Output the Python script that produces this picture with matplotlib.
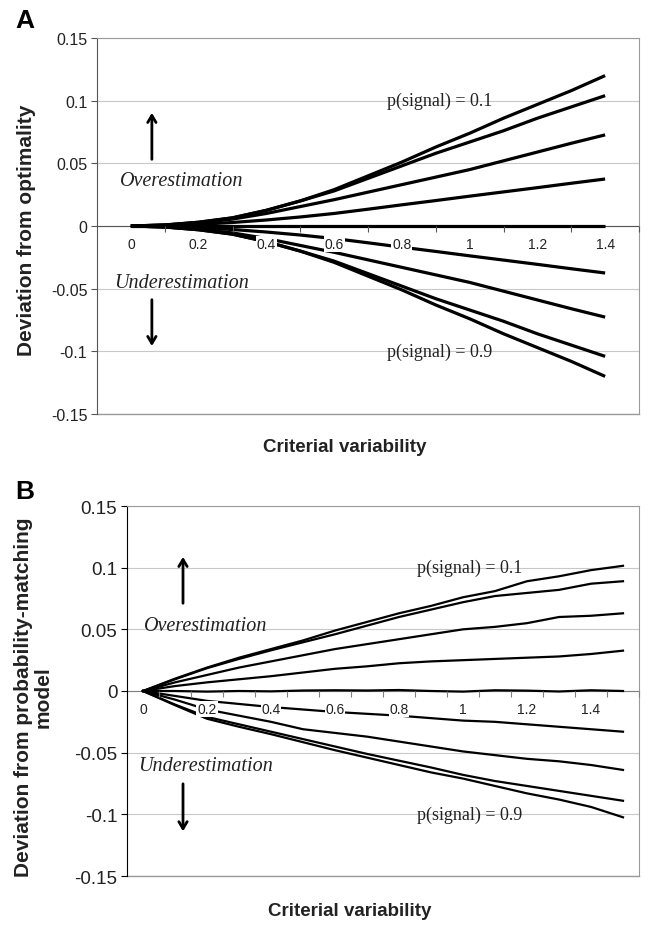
import matplotlib
matplotlib.use('Agg')
import matplotlib.pyplot as plt

plt.rcParams['font.family'] = ['Liberation Sans', 'DejaVu Sans']

# panel A: deviation from optimality
crit_var_a = [0.0, 0.1, 0.2, 0.3, 0.4, 0.5, 0.6, 0.7, 0.8, 0.9, 1.0, 1.1, 1.2, 1.3, 1.4]
dev_a = {
    0.1: [0, .0008, .003, .0065, .0125, .020, .029, .040, .051, .063, .074, .086, .097, .108, .120],
    0.2: [0, .0008, .003, .0065, .0125, .020, .028, .038, .048, .058, .067, .076, .086, .095, .104],
    0.3: [0, .0007, .0025, .0055, .010, .0155, .021, .027, .033, .039, .045, .052, .059, .066, .0727],
    0.4: [0, .0004, .0013, .0028, .0048, .0072, .010, .0134, .0169, .0203, .0238, .0272, .0306, .0341, .0375],
    0.5: [0, 0, 0, 0, 0, 0, 0, 0, 0, 0, 0, 0, 0, 0, 0],
    0.6: [0, -.0004, -.0013, -.0028, -.0048, -.0072, -.010, -.0134, -.0169, -.0203, -.0238, -.0272, -.0306, -.0341, -.0375],
    0.7: [0, -.0007, -.0025, -.0055, -.010, -.0155, -.021, -.027, -.033, -.039, -.045, -.052, -.059, -.066, -.0727],
    0.8: [0, -.0008, -.003, -.0065, -.0125, -.020, -.028, -.038, -.048, -.058, -.067, -.076, -.086, -.095, -.104],
    0.9: [0, -.0008, -.003, -.0065, -.0125, -.020, -.029, -.040, -.051, -.063, -.074, -.086, -.097, -.108, -.120],
}
xtick_a = [0.0, 0.2, 0.4, 0.6, 0.8, 1.0, 1.2, 1.4]
xtick_labels_a = ['0', '0.2', '0.4', '0.6', '0.8', '1', '1.2', '1.4']

# panel B: deviation from probability-matching model
crit_var_b = [0.0, 0.1, 0.2, 0.3, 0.4, 0.5, 0.6, 0.7, 0.8, 0.9, 1.0, 1.1, 1.2, 1.3, 1.4, 1.5]
dev_b = {
    0.1: [0, .010, .019, .027, .034, .041, .049, .056, .063, .069, .076, .081, .089, .093, .098, .1015],
    0.2: [0, .0095, .0185, .026, .033, .0395, .046, .053, .060, .066, .072, .077, .0795, .082, .087, .089],
    0.3: [0, .007, .013, .019, .024, .029, .034, .038, .042, .046, .050, .052, .055, .060, .061, .063],
    0.4: [0, .004, .007, .0095, .012, .015, .018, .020, .0225, .024, .025, .026, .027, .028, .030, .0327],
    0.5: [0, 0, -.0005, 0, -.0003, .0004, .0006, .0004, .0008, 0, -.0005, .0006, .0003, -.0004, .0006, 0],
    0.6: [0, -.004, -.008, -.0105, -.013, -.015, -.017, -.0185, -.020, -.022, -.024, -.025, -.027, -.029, -.031, -.033],
    0.7: [0, -.007, -.015, -.020, -.025, -.031, -.034, -.037, -.041, -.045, -.049, -.052, -.055, -.057, -.060, -.064],
    0.8: [0, -.011, -.021, -.027, -.033, -.039, -.045, -.051, -.0565, -.062, -.068, -.073, -.077, -.081, -.085, -.089],
    0.9: [0, -.0115, -.0225, -.029, -.035, -.0415, -.048, -.054, -.060, -.066, -.071, -.077, -.083, -.088, -.094, -.1024],
}
xtick_b = [0.0, 0.2, 0.4, 0.6, 0.8, 1.0, 1.2, 1.4]
xtick_labels_b = ['0', '0.2', '0.4', '0.6', '0.8', '1', '1.2', '1.4']

yticks = [-0.15, -0.1, -0.05, 0, 0.05, 0.1, 0.15]
ytick_labels = ['-0.15', '-0.1', '-0.05', '0', '0.05', '0.1', '0.15']

serif = ['Liberation Serif', 'DejaVu Serif']


def style_axes(ax, xlim, xticks, xlabels, boundaries, ytick_size, left_color, zero_color):
    ax.set_xlim(*xlim)
    ax.set_ylim(-0.15, 0.15)
    ax.set_axisbelow(True)
    ax.yaxis.grid(True, color='#c8c8c8', lw=0.8)
    ax.set_yticks(yticks)
    ax.set_yticklabels(ytick_labels, fontsize=ytick_size, color='#222222')
    ax.tick_params(axis='y', direction='out', length=4, width=0.8, color=left_color, pad=3)

    ax.spines['bottom'].set_position(('data', 0))
    ax.spines['bottom'].set_color(zero_color)
    ax.spines['bottom'].set_zorder(1.8)
    ax.spines['left'].set_color(left_color)
    for s in ['top', 'right']:
        ax.spines[s].set_color('#9a9a9a')
    # plot-area border at the bottom
    ax.axhline(-0.15, color='#9a9a9a', lw=1.0, clip_on=False, zorder=1)

    ax.set_xticks(xticks)
    ax.set_xticklabels(xlabels, fontsize=10, color='#222222')
    ax.set_xticks(boundaries, minor=True)
    ax.tick_params(axis='x', which='major', length=0, pad=8)
    ax.tick_params(axis='x', which='minor', direction='out', length=4, width=0.8, color=zero_color)
    ax.xaxis.set_zorder(3)
    for t in ax.xaxis.get_major_ticks():
        t.label1.set_bbox(dict(facecolor='white', edgecolor='none', pad=0.6))


def arrows_and_notes(ax, x_arrow, up, down, x_text, y_over, y_under, x_p, y_p1, y_p9):
    ax.annotate('', xy=(x_arrow, up[1]), xytext=(x_arrow, up[0]),
                arrowprops=dict(arrowstyle='->,head_length=0.5,head_width=0.3', lw=2, color='black'))
    ax.annotate('', xy=(x_arrow, down[1]), xytext=(x_arrow, down[0]),
                arrowprops=dict(arrowstyle='->,head_length=0.5,head_width=0.3', lw=2, color='black'))
    ax.text(x_text, y_over, 'Overestimation', family=serif, style='italic', fontsize=14.5,
            ha='center', va='center', color='#222222')
    ax.text(x_text, y_under, 'Underestimation', family=serif, style='italic', fontsize=14.5,
            ha='center', va='center', color='#222222')
    ax.text(x_p, y_p1, 'p(signal) = 0.1', family=serif, fontsize=13, ha='center', va='center', color='#222222')
    ax.text(x_p, y_p9, 'p(signal) = 0.9', family=serif, fontsize=13, ha='center', va='center', color='#222222')


def main():
    fig = plt.figure(figsize=(6.49, 9.28), dpi=100)

    ax_a = fig.add_axes([97 / 649, 1 - 415 / 928, 542 / 649, 376 / 928])
    for p, vals in dev_a.items():
        ax_a.plot(crit_var_a, vals, color='black', lw=2.3, solid_capstyle='butt', zorder=2)
    style_axes(ax_a, (-0.1, 1.5), xtick_a, xtick_labels_a,
               [0.1, 0.3, 0.5, 0.7, 0.9, 1.1, 1.3, 1.5], 11.5, '#555555', '#555555')
    arrows_and_notes(ax_a, 0.062, (0.051, 0.0925), (-0.0566, -0.098), 0.15, 0.036, -0.0447,
                     0.912, 0.1, -0.1)

    ax_b = fig.add_axes([127 / 649, 1 - 877 / 928, 512 / 649, 370 / 928])
    for p, vals in dev_b.items():
        ax_b.plot(crit_var_b, vals, color='black', lw=1.6, zorder=2)
    style_axes(ax_b, (-0.05, 1.55), xtick_b, xtick_labels_b,
               [0.05 + 0.1 * i for i in range(16)], 13.5, 'black', '#808080')
    arrows_and_notes(ax_b, 0.125, (0.0689, 0.111), (-0.073, -0.116), 0.195, 0.0535, -0.0608,
                     1.02, 0.1, -0.1)

    fig.text(15 / 649, 1 - 28 / 928, 'A', fontsize=19, fontweight='bold', va='baseline')
    fig.text(15 / 649, 1 - 499 / 928, 'B', fontsize=19, fontweight='bold', va='baseline')

    fig.text(27 / 649, 1 - 230 / 928, 'Deviation from optimality', rotation=90, fontsize=15,
             fontweight='bold', ha='center', va='center', color='#222222')
    fig.text(33 / 649, 1 - 697 / 928, 'Deviation from probability-matching\nmodel', rotation=90,
             fontsize=15, fontweight='bold', ha='center', va='center', color='#222222',
             multialignment='center', linespacing=1.05)

    fig.text(345 / 649, 1 - 448 / 928, 'Criterial variability', fontsize=13.5, fontweight='bold',
             ha='center', va='center', color='#222222')
    fig.text(350 / 649, 1 - 912 / 928, 'Criterial variability', fontsize=13.5, fontweight='bold',
             ha='center', va='center', color='#222222')

    fig.savefig('out.png', dpi=100)


if __name__ == "__main__":
    main()
